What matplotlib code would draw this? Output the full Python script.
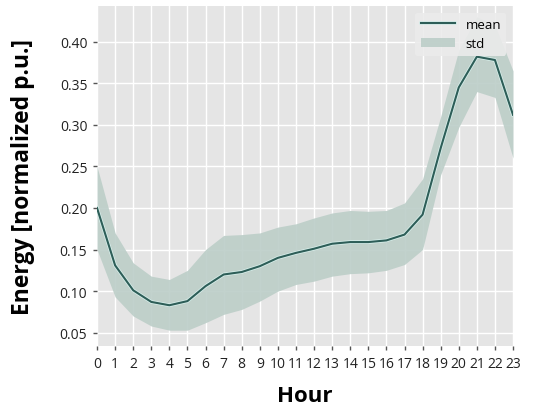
import matplotlib
matplotlib.use("Agg")
import matplotlib.pyplot as plt
import matplotlib.patheffects as pe

hours = list(range(24))
mean = [0.200, 0.131, 0.101, 0.087, 0.083, 0.088, 0.106, 0.120, 0.123, 0.130,
        0.140, 0.146, 0.151, 0.157, 0.159, 0.159, 0.161, 0.168, 0.192, 0.272,
        0.345, 0.382, 0.378, 0.312]
upper = [0.250, 0.170, 0.134, 0.118, 0.114, 0.125, 0.150, 0.167, 0.168, 0.170,
         0.177, 0.181, 0.188, 0.194, 0.197, 0.196, 0.197, 0.206, 0.235, 0.310,
         0.390, 0.430, 0.420, 0.365]
lower = [0.150, 0.093, 0.070, 0.058, 0.053, 0.053, 0.062, 0.072, 0.078, 0.088,
         0.100, 0.108, 0.112, 0.118, 0.121, 0.122, 0.125, 0.132, 0.150, 0.240,
         0.297, 0.340, 0.333, 0.260]
yticks = [0.05, 0.10, 0.15, 0.20, 0.25, 0.30, 0.35, 0.40]

plt.rcParams['font.family'] = ['Open Sans', 'DejaVu Sans']
fig = plt.figure(figsize=(5.46, 4.10), dpi=100)
ax = fig.add_axes([0.1777, 0.1537, 0.7619, 0.8293])
ax.set_facecolor('#e5e5e5')
for s in ax.spines.values():
    s.set_visible(False)
ax.grid(True, color='white', linewidth=1.0)
ax.set_axisbelow(True)

band = ax.fill_between(hours, lower, upper, color='#bccec8', alpha=0.9, linewidth=0, label='std')
line, = ax.plot(hours, mean, color='#2e5e58', linewidth=1.5, label='mean',
                path_effects=[pe.Stroke(linewidth=2.6, foreground='#d8f0ec'), pe.Normal()])

ax.set_xlim(0, 23)
ax.set_ylim(0.034, 0.443)
ax.set_xticks(hours)
ax.set_xticklabels([str(h) for h in hours])
ax.set_yticks(yticks)
ax.set_yticklabels([f"{v:.2f}" for v in yticks])
ax.tick_params(axis='both', direction='out', length=3, width=1, color='#555555',
               labelsize=10, labelcolor='#222222', pad=4)

ax.set_xlabel('Hour', fontsize=16, fontweight='bold', labelpad=10)
ax.set_ylabel('Energy [normalized p.u.]', fontsize=16.5, fontweight='bold', labelpad=18)

leg = ax.legend([line, band], ['mean', 'std'], loc='upper right', fontsize=9.5,
                frameon=True, facecolor='#ebebeb', edgecolor='none', framealpha=0.9,
                handlelength=2.6)

fig.savefig('out.png', dpi=100)
